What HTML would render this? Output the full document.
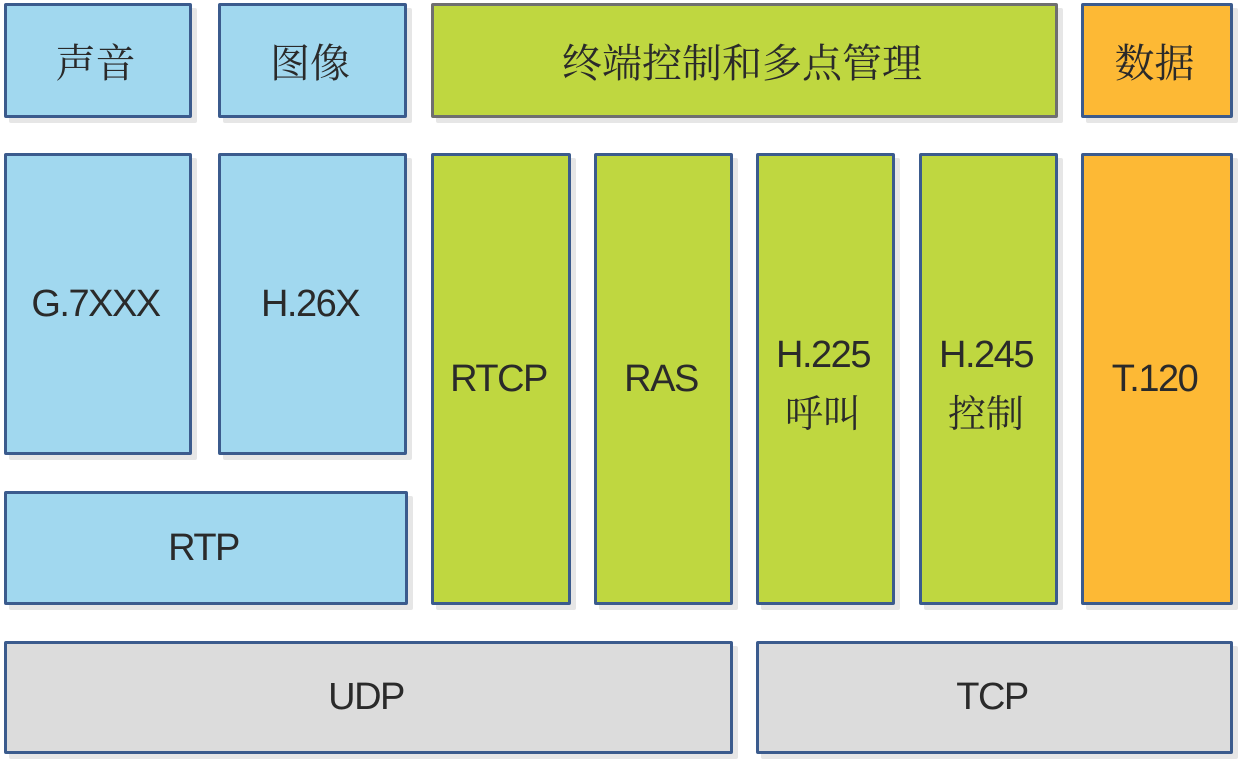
<!DOCTYPE html>
<html><head><meta charset="utf-8"><style>
body{margin:0;width:1240px;height:763px;background:#fff;position:relative;overflow:hidden}
.b{position:absolute;box-sizing:border-box;border:3px solid #3b5b8d;border-radius:2px;display:flex;align-items:center;justify-content:center;text-align:center;color:#2a2a2a;font-family:"Liberation Sans","Noto Serif CJK SC",serif;font-size:38px;letter-spacing:-1.5px;line-height:55px;padding-right:5px;box-shadow:5px 5px 0 #e6e6e6}
.blue{background:#a1d8ef}.green{background:#bfd740}.orange{background:#fdb935}.grey{background:#dcdcdc}
.zh{font-family:"Noto Serif CJK SC",serif;font-size:40px;letter-spacing:0}
.z{font-family:"Noto Serif CJK SC",serif;font-size:38px;letter-spacing:0}
</style></head><body>
<div class="b blue zh" style="left:4px;top:3px;width:188px;height:115px">声音</div>
<div class="b blue zh" style="left:218px;top:3px;width:189px;height:115px">图像</div>
<div class="b green zh" style="left:431px;top:3px;width:627px;height:115px;border-color:#6f6f6f">终端控制和多点管理</div>
<div class="b orange zh" style="left:1081px;top:3px;width:152px;height:115px">数据</div>
<div class="b blue" style="left:4px;top:153px;width:188px;height:302px">G.7XXX</div>
<div class="b blue" style="left:218px;top:153px;width:189px;height:302px">H.26X</div>
<div class="b blue" style="left:4px;top:491px;width:404px;height:114px">RTP</div>
<div class="b green" style="left:431px;top:153px;width:140px;height:452px">RTCP</div>
<div class="b green" style="left:594px;top:153px;width:139px;height:452px">RAS</div>
<div class="b green" style="left:756px;top:153px;width:139px;height:452px;padding-top:12px"><div>H.225<br><span class="z">呼叫</span></div></div>
<div class="b green" style="left:919px;top:153px;width:139px;height:452px;padding-top:12px"><div>H.245<br><span class="z">控制</span></div></div>
<div class="b orange" style="left:1081px;top:153px;width:152px;height:452px">T.120</div>
<div class="b grey" style="left:4px;top:641px;width:729px;height:113px">UDP</div>
<div class="b grey" style="left:756px;top:641px;width:477px;height:113px">TCP</div>
</body></html>
